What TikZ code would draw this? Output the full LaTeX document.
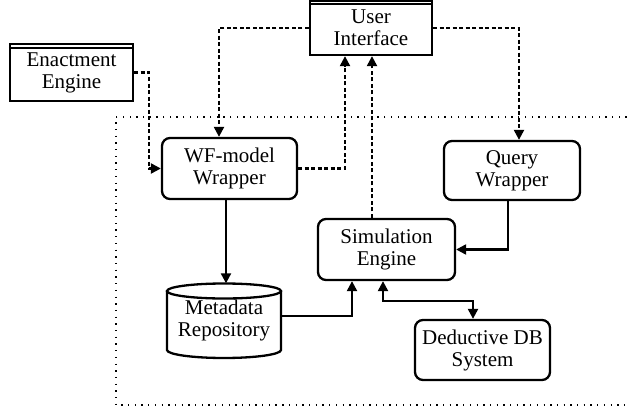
\documentclass[tikz,border=0pt]{standalone}
\usepackage{fontspec}
\setmainfont{Liberation Serif}
\usetikzlibrary{arrows.meta}
\begin{document}
\begin{tikzpicture}[x=1pt,y=-1pt,
  every node/.style={font=\fontsize{21}{22}\selectfont, align=center, inner sep=0pt},
  box/.style={draw, line width=2.3pt, rounded corners=8pt},
  ioface/.style={draw, line width=2.3pt},
  dashln/.style={line width=2.2pt, dash pattern=on 4pt off 2.5pt},
  solidln/.style={line width=2.2pt},
  tip/.style={-{Triangle[length=10pt,width=10pt]}},
  region/.style={line width=1.1pt, dash pattern=on 1.3pt off 5.4pt}
]
\useasboundingbox (0,0) rectangle (629,412);

% subsystem boundary (open to the right)
\draw[region] (640,117) -- (116,117) -- (116,405) -- (640,405);

% external components
\node[ioface, minimum width=123, minimum height=57] (ee) at (71.5,72.5) {Enactment\\Engine};
\draw[line width=2pt] ([yshift=-5]ee.north west) -- ([yshift=-5]ee.north east);
\node[ioface, minimum width=122, minimum height=54] (ui) at (371,28) {User\\Interface};
\draw[line width=2pt] ([yshift=-4.5]ui.north west) -- ([yshift=-4.5]ui.north east);

% internal components
\node[box, minimum width=135, minimum height=61] (wf) at (229.5,168.5) {WF-model\\Wrapper};
\node[box, minimum width=136, minimum height=59] (qw) at (512,170.5) {Query\\Wrapper};
\node[box, minimum width=137, minimum height=61] (se) at (386.5,249.5) {Simulation\\Engine};
\node[box, minimum width=135, minimum height=60] (dd) at (482.5,350) {Deductive DB\\System};

% metadata repository (cylinder)
\draw[line width=2.3pt] (167,291) -- (167,350) arc[start angle=180,end angle=360,x radius=57pt,y radius=8pt] -- (281,291);
\draw[line width=2.3pt] (224,291) ellipse[x radius=57pt,y radius=7.5pt];
\node[minimum width=114, minimum height=73] (md) at (224,320) {Metadata\\Repository};

% dashed (control) connectors
\draw[dashln, tip] (ee.east) -- ++(15,0) |- (wf.west);
\draw[dashln, tip] (ui.west) -| ([xshift=-10.5]wf.north);
\draw[dashln, tip] (wf.east) -| ([xshift=-26]ui.south);
\draw[dashln, tip] ([xshift=-14.5]se.north) -- ([xshift=-14.5]se.north |- ui.south);
\draw[dashln, tip] (ui.east) -| ([xshift=7]qw.north);

% solid (data) connectors
\draw[solidln, tip] ([xshift=-4]qw.south) |- (se.east);
\draw[solidln, tip] ([xshift=-3.5]wf.south) -- ([xshift=-3.5]wf.south |- md.north);
\draw[solidln, tip] ([yshift=4]md.east) -| ([xshift=-34.5]se.south);
\draw[solidln, {Triangle[length=10pt,width=10pt]}-{Triangle[length=10pt,width=10pt]}]
  ([xshift=-3.5]se.south) -- ++(0,20) -| ([xshift=-9.5]dd.north);
\end{tikzpicture}
\end{document}
